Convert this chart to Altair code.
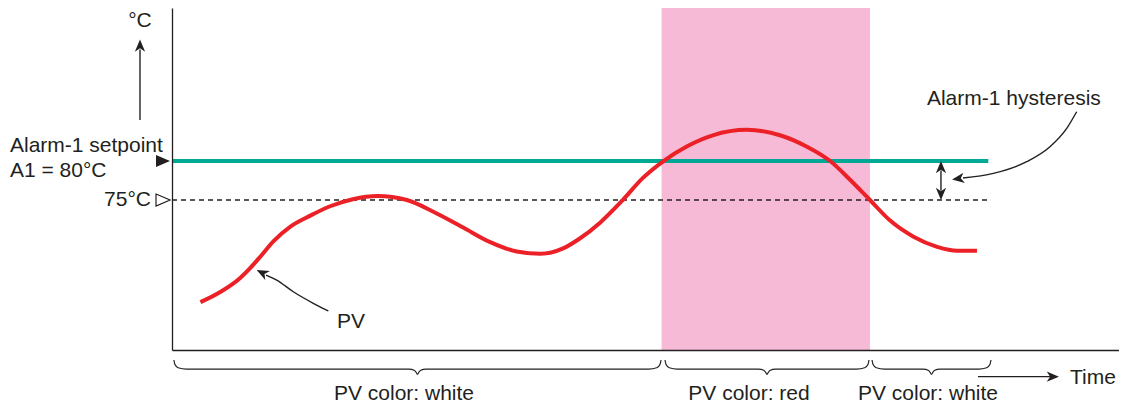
import altair as alt
import pandas as pd

# ---------------- data ----------------
TIME = [3.0, 5.1, 7.2, 8.2, 9.3, 10.7, 12.5, 14.6, 16.7, 19.1, 21.7, 24.8, 27.6, 30.7,
        33.6, 36.4, 38.9, 41.3, 43.1, 45.2, 47.6, 49.7, 51.9, 54.4, 57.1, 60.7, 64.2,
        67.1, 69.5, 71.6, 73.7, 75.8, 78.3, 80.8, 82.9, 85.0]
PV = [61.9, 63.2, 65.0, 66.2, 67.7, 69.7, 71.6, 73.0, 74.2, 75.1, 75.5, 75.0, 73.5, 71.5,
      69.6, 68.4, 68.1, 68.8, 70.1, 72.1, 75.0, 77.8, 80.0, 81.9, 83.3, 84.0, 83.3,
      81.8, 80.0, 77.6, 75.0, 72.4, 70.3, 69.0, 68.5, 68.5]

SETPOINT = 80.0
HYST_LOW = 75.0
REF_END = 86.2
ALARM_START, ALARM_END = 51.7, 73.7
X_DOMAIN = [0, 100]
Y_DOMAIN = [55.77, 99.62]

PHASE_START = [0.2, 52.06, 73.92]
PHASE_END = [51.64, 73.6, 86.48]
PHASE_LABELS = ["PV color: white", "PV color: red", "PV color: white"]
PHASE_LABEL_X = [24.5, 60.93, 79.83]
PHASE_LABEL_Y = 49.3
BRACE_Y = [54.49, 53.95, 53.5, 53.33, 53.33, 53.15, 52.62]
BRACE_DX = [0.0, 0.1, 0.45, 1.3]

LEFT_TEXT = ["Alarm-1 setpoint", "A1 = 80°C", "Alarm-1 hysteresis", "PV", "Time"]
LEFT_TEXT_X = [-17.11, -17.11, 79.72, 17.42, 94.83]
LEFT_TEXT_Y = [81.19, 77.99, 87.18, 58.59, 51.37]
CENTER_TEXT = ["°C"] + PHASE_LABELS
CENTER_TEXT_X = [-3.38] + PHASE_LABEL_X
CENTER_TEXT_Y = [97.18] + [PHASE_LABEL_Y] * 3
RIGHT_TEXT = ["75°C"]
RIGHT_TEXT_X = [-2.22]
RIGHT_TEXT_Y = [74.29]

MARK_X = -0.95

# curved annotation arrows (shaft points)
PV_ARROW_X = [16.5, 14.92, 12.81, 11.06, 9.93]
PV_ARROW_Y = [60.77, 61.76, 63.24, 64.74, 65.38]
HY_ARROW_X = [95.53, 94.48, 92.71, 90.25, 86.73, 83.53]
HY_ARROW_Y = [86.32, 84.19, 81.83, 79.91, 78.42, 77.82]

# straight arrows (shafts)
SHAFT_X = [-3.38, 81.2, 85.11]
SHAFT_X2 = [-3.38, 81.2, 93.0]
SHAFT_Y = [85.26, 78.8, 52.35]
SHAFT_Y2 = [94.3, 76.2, 52.35]

# arrow heads: tip positions and directions
HEAD_X = [-3.38, 81.2, 81.2, 93.66, 8.94, 82.37]
HEAD_Y = [95.58, 80.0, 75.0, 52.35, 66.03, 77.63]
HEAD_ANGLE = [0, 0, 180, 90, 297, 262]

# ---------------- styles ----------------
INK = "#231F20"
FONT = "Liberation Sans"
ARROW_PATH = "M0,0L0.42,1L0,0.72L-0.42,1Z"
TRI_PATH = "M-1,-0.85L1,0L-1,0.85Z"

xs = alt.Scale(domain=X_DOMAIN, nice=False, zero=False)
ys = alt.Scale(domain=Y_DOMAIN, nice=False, zero=False)
AX = alt.Axis(labels=False, ticks=False, grid=False, domainColor=INK, domainWidth=1.3, zindex=1)


def X(f):
    return alt.X(f, type="quantitative", scale=xs, axis=AX, title="")


def Y(f):
    return alt.Y(f, type="quantitative", scale=ys, axis=AX, title="")


# ---------------- tables ----------------
band_df = pd.DataFrame({"x": [ALARM_START], "x2": [ALARM_END], "y": [Y_DOMAIN[1]], "y2": [Y_DOMAIN[0]]})
ref_df = pd.DataFrame({"x": [0.0], "x2": [REF_END], "sp": [SETPOINT], "lo": [HYST_LOW]})
pv_df = pd.DataFrame({"x": TIME, "y": PV})

brace_rows = []
for i, (a, b) in enumerate(zip(PHASE_START, PHASE_END)):
    c = (a + b) / 2
    xs_left = [a + d for d in BRACE_DX] + [c - 0.9, c - 0.3, c]
    for side in ("L", "R"):
        for xv, yv in zip(xs_left, BRACE_Y):
            xx = xv if side == "L" else 2 * c - xv
            brace_rows.append({"id": f"b{i}{side}", "x": xx, "y": yv})
brace_df = pd.DataFrame(brace_rows)

curve_rows = [{"id": "pv", "x": x, "y": y} for x, y in zip(PV_ARROW_X, PV_ARROW_Y)]
curve_rows += [{"id": "hy", "x": x, "y": y} for x, y in zip(HY_ARROW_X, HY_ARROW_Y)]
curve_df = pd.DataFrame(curve_rows)

shaft_df = pd.DataFrame({"x": SHAFT_X, "x2": SHAFT_X2, "y": SHAFT_Y, "y2": SHAFT_Y2})
head_df = pd.DataFrame({"x": HEAD_X, "y": HEAD_Y, "a": HEAD_ANGLE})
mark_df = pd.DataFrame({"x": [MARK_X], "sp": [SETPOINT], "lo": [HYST_LOW]})

left_df = pd.DataFrame({"t": LEFT_TEXT, "x": LEFT_TEXT_X, "y": LEFT_TEXT_Y})
center_df = pd.DataFrame({"t": CENTER_TEXT, "x": CENTER_TEXT_X, "y": CENTER_TEXT_Y})
right_df = pd.DataFrame({"t": RIGHT_TEXT, "x": RIGHT_TEXT_X, "y": RIGHT_TEXT_Y})

# ---------------- layers ----------------
band = alt.Chart(band_df).mark_rect(color="#F6BAD6", clip=False).encode(
    x=X("x"), x2="x2", y=Y("y"), y2="y2")

dashed = alt.Chart(ref_df).mark_rule(color=INK, strokeWidth=1.5, strokeDash=[5, 4], clip=False).encode(
    x=X("x"), x2="x2", y=Y("lo"))

teal = alt.Chart(ref_df).mark_rule(color="#00A896", strokeWidth=4, clip=False).encode(
    x=X("x"), x2="x2", y=Y("sp"))

pv_line = alt.Chart(pv_df).mark_line(color="#EC2027", strokeWidth=4, interpolate="monotone",
                                     clip=False).encode(x=X("x"), y=Y("y"))

braces = alt.Chart(brace_df).mark_line(color=INK, strokeWidth=1.2, interpolate="monotone",
                                       clip=False).encode(x=X("x"), y=Y("y"), detail="id:N")

curves = alt.Chart(curve_df).mark_line(color=INK, strokeWidth=1.4, interpolate="monotone",
                                       clip=False).encode(x=X("x"), y=Y("y"), detail="id:N")

shafts = alt.Chart(shaft_df).mark_rule(color=INK, strokeWidth=1.4, clip=False).encode(
    x=X("x"), x2="x2", y=Y("y"), y2="y2")

heads = alt.Chart(head_df).mark_point(shape=ARROW_PATH, size=600, filled=True, color=INK,
                                      opacity=1, clip=False).encode(
    x=X("x"), y=Y("y"), angle=alt.Angle("a:Q", scale=None))

sp_mark = alt.Chart(mark_df).mark_point(shape=TRI_PATH, size=196, filled=True, color=INK,
                                        opacity=1, clip=False).encode(x=X("x"), y=Y("sp"))
lo_mark = alt.Chart(mark_df).mark_point(shape=TRI_PATH, size=196, filled=True, fill="white",
                                        stroke=INK, strokeWidth=1.2, opacity=1, clip=False).encode(
    x=X("x"), y=Y("lo"))

txt_kw = dict(font=FONT, fontSize=21, color=INK, baseline="alphabetic", clip=False)
left_txt = alt.Chart(left_df).mark_text(align="left", **txt_kw).encode(x=X("x"), y=Y("y"), text="t:N")
center_txt = alt.Chart(center_df).mark_text(align="center", **txt_kw).encode(x=X("x"), y=Y("y"), text="t:N")
right_txt = alt.Chart(right_df).mark_text(align="right", **txt_kw).encode(x=X("x"), y=Y("y"), text="t:N")

chart = alt.layer(
    band, dashed, teal, pv_line, braces, curves, shafts, heads, sp_mark, lo_mark,
    left_txt, center_txt, right_txt
).properties(
    width=947,
    height=342,
    autosize=alt.AutoSizeParams(type="none"),
    padding={"left": 164, "top": 0, "right": 0, "bottom": 58},
    background="white",
).configure_view(strokeWidth=0)

chart.save("out.html", embed_options={"renderer": "svg", "actions": False})
